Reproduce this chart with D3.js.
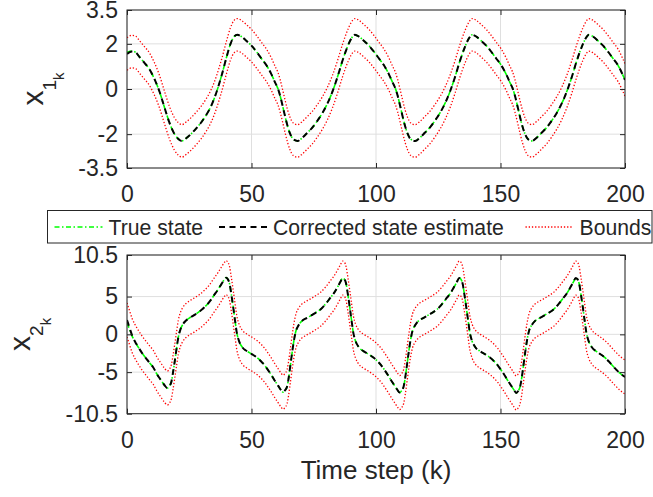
<!DOCTYPE html>
<html>
<head>
<meta charset="utf-8">
<script src="https://cdn.jsdelivr.net/npm/d3@7"></script>
<style>
  body { margin: 0; background: #fff; }
  text { font-family: "Liberation Sans", Arial, Helvetica, sans-serif; fill: #262626; }
</style>
</head>
<body>
<svg id="chart" width="653" height="497"></svg>
<script>
// x1 key points (time step, value)
const x1Steps = [0, 2, 3.5, 5, 7, 9, 11, 13, 15, 17, 19, 20.5, 22,
  24, 26, 28, 30, 32, 34, 36, 38, 40, 41.5, 43, 44.3,
  46, 48, 50, 52, 54, 56, 58, 59.5, 60.5, 61.5, 62.5, 63.5, 64.5, 65.5, 66.7, 68.5,
  70.5, 72.5, 74.5, 76.5, 78.5, 80.5, 82.5, 84.5, 86.5, 88.5, 90, 91.5,
  93.2, 95.2, 97.2, 99.2, 101.2, 103.2, 105.2, 106.7, 107.7, 108.7, 109.7, 110.7, 111.7, 112.7, 113.9, 115.7,
  117.7, 119.7, 121.7, 123.7, 125.7, 127.7, 129.7, 131.7, 133.7, 135.7, 137.2, 138.6,
  140.3, 142.3, 144.3, 146.3, 148.3, 150.3, 152.3, 153.8, 154.8, 155.8, 156.8, 157.8, 158.8, 159.8, 161, 162.6,
  164.6, 166.6, 168.6, 170.6, 172.6, 174.6, 176.6, 178.6, 180.6, 182.6, 184.1, 185.5,
  187.2, 189.2, 191.2, 193.2, 195.2, 197.2, 199.2, 200];
const x1True = [1.62, 1.68, 1.62, 1.42, 1.16, 0.88, 0.45, -0.10, -0.80, -1.48, -1.98, -2.20, -2.30,
  -2.16, -1.96, -1.72, -1.45, -1.12, -0.70, -0.12, 0.60, 1.42, 1.98, 2.32, 2.40,
  2.32, 2.13, 1.92, 1.65, 1.35, 1.05, 0.65, 0.28, 0.05, -0.30, -0.75, -1.22, -1.65, -1.98, -2.22, -2.30,
  -2.15, -1.93, -1.70, -1.40, -1.06, -0.64, -0.12, 0.52, 1.24, 1.86, 2.22, 2.40,
  2.32, 2.13, 1.92, 1.65, 1.35, 1.05, 0.65, 0.28, 0.05, -0.30, -0.75, -1.22, -1.65, -1.98, -2.22, -2.30,
  -2.15, -1.93, -1.70, -1.40, -1.06, -0.64, -0.12, 0.52, 1.24, 1.86, 2.22, 2.40,
  2.32, 2.13, 1.92, 1.65, 1.35, 1.05, 0.65, 0.28, 0.05, -0.30, -0.75, -1.22, -1.65, -1.98, -2.22, -2.30,
  -2.15, -1.93, -1.70, -1.40, -1.06, -0.64, -0.12, 0.52, 1.24, 1.86, 2.22, 2.40,
  2.32, 2.13, 1.92, 1.65, 1.35, 1.05, 0.60, 0.40];
const x1Est = [1.55, 1.66, 1.62, 1.42, 1.16, 0.88, 0.45, -0.10, -0.80, -1.48, -1.98, -2.20, -2.30,
  -2.16, -1.96, -1.72, -1.45, -1.12, -0.70, -0.12, 0.60, 1.42, 1.98, 2.32, 2.40,
  2.32, 2.13, 1.92, 1.65, 1.35, 1.05, 0.65, 0.28, 0.05, -0.30, -0.75, -1.22, -1.65, -1.98, -2.22, -2.30,
  -2.15, -1.93, -1.70, -1.40, -1.06, -0.64, -0.12, 0.52, 1.24, 1.86, 2.22, 2.40,
  2.32, 2.13, 1.92, 1.65, 1.35, 1.05, 0.65, 0.28, 0.05, -0.30, -0.75, -1.22, -1.65, -1.98, -2.22, -2.30,
  -2.15, -1.93, -1.70, -1.40, -1.06, -0.64, -0.12, 0.52, 1.24, 1.86, 2.22, 2.40,
  2.32, 2.13, 1.92, 1.65, 1.35, 1.05, 0.65, 0.28, 0.05, -0.30, -0.75, -1.22, -1.65, -1.98, -2.22, -2.30,
  -2.15, -1.93, -1.70, -1.40, -1.06, -0.64, -0.12, 0.52, 1.24, 1.86, 2.22, 2.40,
  2.32, 2.13, 1.92, 1.65, 1.35, 1.05, 0.60, 0.40];
const x1Band = 0.72;

// x2 key points
const x2Steps = [0, 1, 2, 3.2, 4.5, 6, 7.5, 9, 10.5, 12, 13.5, 15, 16.2,
  17, 17.8, 18.5, 19.2, 19.9, 20.6, 21.4, 22.4, 23.6, 25, 27, 29, 31, 33, 35, 36.5, 38, 39, 39.8,
  40.5, 41.2, 41.9, 42.65, 43.4, 44.1, 45, 46.3, 48.3, 50.3, 52.3, 53.8, 55.3, 56.8, 58.1, 59.3, 60.8, 61.8, 62.7,
  63.5, 64.3, 65, 65.7, 66.4, 67.1, 67.9, 68.9, 70.2, 71.7, 73.7, 75.7, 77.7, 79.7, 81.7, 83.1, 84.7, 85.7, 86.6,
  87.3, 88, 88.7, 89.45, 90.2, 90.9, 91.8, 93.1, 95.1, 97.1, 99.1, 100.6, 102.1, 103.6, 104.9, 106.1, 107.6, 108.6, 109.5,
  110.3, 111.1, 111.8, 112.5, 113.2, 113.9, 114.7, 115.7, 117, 118.5, 120.5, 122.5, 124.5, 126.5, 128.5, 129.9, 131.5, 132.5, 133.4,
  134.1, 134.8, 135.5, 136.25, 137, 137.7, 138.6, 139.9, 141.9, 143.9, 145.9, 147.4, 148.9, 150.4, 151.7, 152.9, 154.4, 155.4, 156.3,
  157.1, 157.9, 158.6, 159.3, 160, 160.7, 161.5, 162.5, 163.8, 165.3, 167.3, 169.3, 171.3, 173.3, 175.3, 176.7, 178.3, 179.3, 180.2,
  180.9, 181.6, 182.3, 183.05, 183.8, 184.5, 185.4, 186.7, 188.7, 190.7, 192.7, 194.2, 196, 198, 200];
const x2True = [1.5, 0.7, -0.2, -0.95, -1.68, -2.45, -3.1, -3.75, -4.35, -5.25, -6.0, -6.7, -7.1,
  -6.85, -6.3, -5.0, -3.5, -1.9, -0.4, 0.6, 1.3, 1.8, 2.15, 2.55, 3.0, 3.55, 4.25, 5.2, 5.9, 6.7, 7.2, 7.5,
  7.3, 6.7, 5.3, 3.6, 1.8, 0.2, -0.9, -1.7, -2.25, -2.65, -3.1, -3.55, -4.1, -4.8, -5.45, -6.1, -6.85, -7.35, -7.65,
  -7.4, -6.9, -5.6, -3.9, -2.2, -0.7, 0.5, 1.2, 1.75, 2.08, 2.45, 2.85, 3.3, 4.0, 4.85, 5.45, 6.35, 6.95, 7.45,
  7.3, 6.7, 5.3, 3.6, 1.8, 0.2, -0.9, -1.7, -2.25, -2.65, -3.1, -3.55, -4.1, -4.8, -5.45, -6.1, -6.85, -7.35, -7.7,
  -7.45, -6.9, -5.6, -3.9, -2.2, -0.7, 0.5, 1.2, 1.75, 2.08, 2.45, 2.85, 3.3, 4.0, 4.85, 5.45, 6.35, 6.95, 7.45,
  7.3, 6.7, 5.3, 3.6, 1.8, 0.2, -0.9, -1.7, -2.25, -2.65, -3.1, -3.55, -4.1, -4.8, -5.45, -6.1, -6.85, -7.35, -7.75,
  -7.5, -6.9, -5.6, -3.9, -2.2, -0.7, 0.5, 1.2, 1.75, 2.08, 2.45, 2.85, 3.3, 4.0, 4.85, 5.45, 6.35, 6.95, 7.45,
  7.3, 6.7, 5.3, 3.6, 1.8, 0.2, -0.9, -1.7, -2.3, -2.75, -3.3, -3.85, -4.5, -5.15, -5.65];
const x2Est = [1.9, 0.9, -0.1, -0.95, -1.68, -2.45, -3.1, -3.75, -4.35, -5.25, -6.0, -6.7, -7.1,
  -6.85, -6.3, -5.0, -3.5, -1.9, -0.4, 0.6, 1.3, 1.8, 2.15, 2.55, 3.0, 3.55, 4.25, 5.2, 5.9, 6.7, 7.2, 7.5,
  7.3, 6.7, 5.3, 3.6, 1.8, 0.2, -0.9, -1.7, -2.25, -2.65, -3.1, -3.55, -4.1, -4.8, -5.45, -6.1, -6.85, -7.35, -7.65,
  -7.4, -6.9, -5.6, -3.9, -2.2, -0.7, 0.5, 1.2, 1.75, 2.08, 2.45, 2.85, 3.3, 4.0, 4.85, 5.45, 6.35, 6.95, 7.45,
  7.3, 6.7, 5.3, 3.6, 1.8, 0.2, -0.9, -1.7, -2.25, -2.65, -3.1, -3.55, -4.1, -4.8, -5.45, -6.1, -6.85, -7.35, -7.7,
  -7.45, -6.9, -5.6, -3.9, -2.2, -0.7, 0.5, 1.2, 1.75, 2.08, 2.45, 2.85, 3.3, 4.0, 4.85, 5.45, 6.35, 6.95, 7.45,
  7.3, 6.7, 5.3, 3.6, 1.8, 0.2, -0.9, -1.7, -2.25, -2.65, -3.1, -3.55, -4.1, -4.8, -5.45, -6.1, -6.85, -7.35, -7.75,
  -7.5, -6.9, -5.6, -3.9, -2.2, -0.7, 0.5, 1.2, 1.75, 2.08, 2.45, 2.85, 3.3, 4.0, 4.85, 5.45, 6.35, 6.95, 7.45,
  7.3, 6.7, 5.3, 3.6, 1.8, 0.2, -0.9, -1.7, -2.3, -2.75, -3.3, -3.85, -4.5, -5.15, -5.65];
const x2Band = 2.25;

const xTicks = [0, 50, 100, 150, 200];
const x1Ticks = [-3.5, -2, 0, 2, 3.5];
const x2Ticks = [-10.5, -5, 0, 5, 10.5];
const legendLabels = ['True state', 'Corrected state estimate', 'Bounds'];

const svg = d3.select('#chart');
const left = 127, right = 625;
const axisColor = '#262626';

const xScale = d3.scaleLinear().domain([0, 200]).range([left, right]);

function drawPanel(top, bottom, yTicks, steps, truth, est, band, sub, labelX, id) {
    const yScale = d3.scaleLinear()
        .domain([yTicks[0], yTicks[yTicks.length - 1]])
        .range([bottom, top]);
    const g = svg.append('g');

    // Grid
    g.selectAll('.gx').data(xTicks).enter().append('line')
        .attr('x1', d => xScale(d)).attr('x2', d => xScale(d))
        .attr('y1', top).attr('y2', bottom)
        .attr('stroke', '#dfdfdf').attr('stroke-width', 1);
    g.selectAll('.gy').data(yTicks).enter().append('line')
        .attr('x1', left).attr('x2', right)
        .attr('y1', d => yScale(d)).attr('y2', d => yScale(d))
        .attr('stroke', '#dfdfdf').attr('stroke-width', 1);

    // Clip
    svg.append('clipPath').attr('id', id)
        .append('rect').attr('x', left).attr('y', top)
        .attr('width', right - left).attr('height', bottom - top);

    const pts = a => steps.map((t, i) => ({ t, v: a[i] }));
    const line = d3.line().x(d => xScale(d.t)).y(d => yScale(d.v)).curve(d3.curveMonotoneX);
    const lines = g.append('g').attr('clip-path', `url(#${id})`);

    lines.append('path').datum(pts(truth))
        .attr('fill', 'none').attr('stroke', '#00ff00').attr('stroke-width', 1.6)
        .attr('stroke-dasharray', '5,2.5,1.5,2.5').attr('d', line);
    lines.append('path').datum(pts(est))
        .attr('fill', 'none').attr('stroke', '#000').attr('stroke-width', 2)
        .attr('stroke-dasharray', '6,4.5').attr('d', line);
    [band, -band].forEach(b => {
        lines.append('path').datum(pts(est.map(v => v + b)))
            .attr('fill', 'none').attr('stroke', '#ff0000').attr('stroke-width', 1.3)
            .attr('stroke-dasharray', '1.3,1.9').attr('d', line);
    });

    // Axes (inward ticks, MATLAB style)
    const fmt = d => String(d);
    const ax = g.append('g').attr('transform', `translate(${left},0)`)
        .call(d3.axisLeft(yScale).tickValues(yTicks).tickFormat(fmt).tickSizeInner(-5).tickSizeOuter(0).tickPadding(9));
    const bx = g.append('g').attr('transform', `translate(0,${bottom})`)
        .call(d3.axisBottom(xScale).tickValues(xTicks).tickFormat(fmt).tickSizeInner(-5).tickSizeOuter(0).tickPadding(18));
    const rx = g.append('g').attr('transform', `translate(${right},0)`)
        .call(d3.axisRight(yScale).tickValues(yTicks).tickFormat('').tickSizeInner(-5).tickSizeOuter(0));
    const tx = g.append('g').attr('transform', `translate(0,${top})`)
        .call(d3.axisTop(xScale).tickValues(xTicks).tickFormat('').tickSizeInner(-5).tickSizeOuter(0));
    [ax, bx, rx, tx].forEach(a => {
        a.select('.domain').remove();
        a.selectAll('line').attr('stroke', axisColor);
        a.selectAll('text').attr('fill', axisColor).style('font-size', '23px')
            .style('font-family', '"Liberation Sans", Arial, Helvetica, sans-serif');
    });

    g.append('rect').attr('x', left).attr('y', top)
        .attr('width', right - left).attr('height', bottom - top)
        .attr('fill', 'none').attr('stroke', axisColor).attr('stroke-width', 1);

    // y label x_{n_k}
    const lab = g.append('text')
        .attr('transform', `translate(${labelX},${(top + bottom) / 2}) rotate(-90)`)
        .attr('text-anchor', 'middle');
    lab.append('tspan').text('x').style('font-size', '30px');
    lab.append('tspan').text(sub).attr('dy', 13).style('font-size', '19px');
    lab.append('tspan').text('k').attr('dy', 8).style('font-size', '15px');
}

drawPanel(10, 168, x1Ticks, x1Steps, x1True, x1Est, x1Band, '1', 43, 'clip1');
drawPanel(255, 413.7, x2Ticks, x2Steps, x2True, x2Est, x2Band, '2', 30, 'clip2');

// x label
svg.append('text').attr('x', (left + right) / 2).attr('y', 479)
    .attr('text-anchor', 'middle').style('font-size', '26px').text('Time step (k)');

// Legend
const leg = svg.append('g');
leg.append('rect').attr('x', 47.5).attr('y', 210.5).attr('width', 604.5).attr('height', 32.5)
    .attr('fill', '#fff').attr('stroke', axisColor).attr('stroke-width', 1);
const legStyles = [
    { x: 54.5, color: '#00ff00', w: 1.6, dash: '5,2.5,1.5,2.5' },
    { x: 219, color: '#000', w: 2, dash: '6,4.5' },
    { x: 525.5, color: '#ff0000', w: 1.3, dash: '1.3,1.9' }
];
legendLabels.forEach((name, i) => {
    const s = legStyles[i];
    leg.append('line').attr('x1', s.x).attr('x2', s.x + 48).attr('y1', 227).attr('y2', 227)
        .attr('stroke', s.color).attr('stroke-width', s.w).attr('stroke-dasharray', s.dash);
    leg.append('text').attr('x', s.x + 54).attr('y', 234.5)
        .style('font-size', '21.2px').attr('fill', '#000').text(name);
});
</script>
</body>
</html>
